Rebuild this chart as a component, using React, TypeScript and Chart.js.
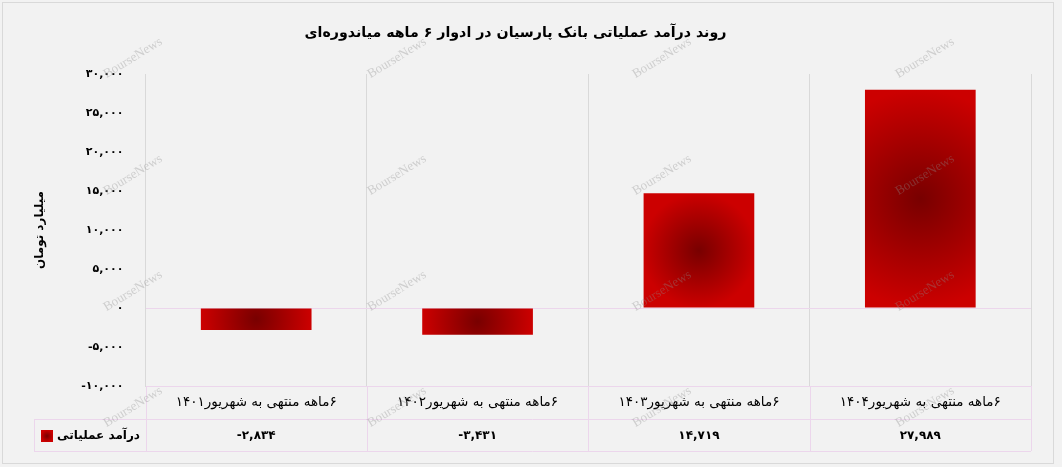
import React, { useEffect, useRef } from 'react';
import { Chart, registerables } from 'chart.js';

Chart.register(...registerables);

// ---- data ----
const chartTitle = 'روند درآمد عملیاتی بانک پارسیان در ادوار ۶ ماهه میاندوره‌ای';
const yAxisTitle = 'میلیارد تومان';
const seriesName = 'درآمد عملیاتی';
const categories = [
  '۶ماهه منتهی به شهریور۱۴۰۱',
  '۶ماهه منتهی به شهریور۱۴۰۲',
  '۶ماهه منتهی به شهریور۱۴۰۳',
  '۶ماهه منتهی به شهریور۱۴۰۴',
];
const values = [-2834, -3431, 14719, 27989];
const yMin = -10000;
const yMax = 30000;
const yStep = 5000;
const watermark = 'BourseNews';

const FONT = '"DejaVu Sans", "Noto Sans", sans-serif';
const toFa = (s: string) => s.replace(/\d/g, (d) => '۰۱۲۳۴۵۶۷۸۹'[+d]);
const fmt = (n: number) => toFa(Math.round(n).toLocaleString('en-US'));
const rtl = (s: string) => '\u202B' + s + '\u202C';

const EDGE = '#cc0000';
const CENTER = '#780000';
const TITLE_SIZE = 14.2;

const deco = {
  id: 'deco',
  beforeDraw(chart: any) {
    const { ctx, width, height } = chart;
    ctx.save();
    ctx.fillStyle = '#f2f2f2';
    ctx.fillRect(0, 0, width, height);
    ctx.strokeStyle = '#d9d9d9';
    ctx.lineWidth = 1;
    ctx.strokeRect(2.5, 2.5, 1051, 461);
    ctx.restore();
  },
  afterDraw(chart: any) {
    const { ctx, chartArea } = chart;
    const xs = chart.scales.x;
    const n = categories.length;
    const colW = xs.width / n;
    const rowTop = Math.round(chartArea.bottom);
    const rowMid = rowTop + 33;
    const rowBot = rowTop + 65;
    const legendLeft = 34;
    ctx.save();
    ctx.strokeStyle = '#ecd6ec';
    ctx.lineWidth = 1;
    ctx.beginPath();
    ctx.moveTo(legendLeft, rowMid + 0.5);
    ctx.lineTo(xs.right, rowMid + 0.5);
    ctx.moveTo(legendLeft, rowBot + 0.5);
    ctx.lineTo(xs.right, rowBot + 0.5);
    ctx.moveTo(legendLeft + 0.5, rowMid);
    ctx.lineTo(legendLeft + 0.5, rowBot);
    for (let i = 0; i <= n; i++) {
      const x = Math.round(xs.left + i * colW) + 0.5;
      ctx.moveTo(x, rowTop);
      ctx.lineTo(x, rowBot);
    }
    ctx.stroke();

    // values row
    ctx.fillStyle = '#000';
    ctx.font = 'bold 12px ' + FONT;
    ctx.textAlign = 'center';
    ctx.textBaseline = 'middle';
    const vy = (rowMid + rowBot) / 2 + 1;
    values.forEach((v, i) => {
      ctx.fillText(fmt(v), xs.getPixelForValue(i), vy);
    });

    // legend cell
    const sx = 41, sy = vy - 6, ss = 12;
    const g = ctx.createRadialGradient(sx + ss / 2, sy + ss / 2, 0, sx + ss / 2, sy + ss / 2, ss / 2);
    g.addColorStop(0, CENTER);
    g.addColorStop(1, EDGE);
    ctx.fillStyle = g;
    ctx.fillRect(sx, sy, ss, ss);
    ctx.fillStyle = '#000';
    ctx.font = 'bold 12px ' + FONT;
    ctx.textAlign = 'right';
    ctx.fillText(seriesName, 140, vy);

    // watermark
    ctx.font = '13px "Liberation Serif", serif';
    ctx.fillStyle = 'rgba(140,140,140,0.35)';
    ctx.textAlign = 'center';
    const wx = [133, 397, 662, 925];
    const wy = [58, 175, 291, 407];
    wy.forEach((y) =>
      wx.forEach((x) => {
        ctx.save();
        ctx.translate(x, y);
        ctx.rotate(-0.55);
        ctx.fillText(watermark, 0, 0);
        ctx.restore();
      })
    );
    ctx.restore();
  },
};

export default function App() {
  const ref = useRef<HTMLCanvasElement | null>(null);
  useEffect(() => {
    if (!ref.current) return;
    const chart = new Chart(ref.current, {
      type: 'bar',
      data: {
        labels: categories,
        datasets: [
          {
            label: seriesName,
            data: values,
            categoryPercentage: 1,
            barPercentage: 0.5,
            borderWidth: 0,
            backgroundColor: (c: any) => {
              const ch = c.chart;
              const xs = ch.scales?.x;
              const ys = ch.scales?.y;
              if (!xs || !ys || c.dataIndex == null || typeof c.raw !== 'number') return EDGE;
              const v = c.raw as number;
              const cx = xs.getPixelForValue(c.dataIndex);
              const y0 = ys.getPixelForValue(0);
              const y1 = ys.getPixelForValue(v);
              const cy = (y0 + y1) / 2;
              const w = (xs.width / categories.length) * 0.5;
              const h = Math.abs(y1 - y0);
              const r = Math.max(w, h) / 2;
              if (![cx, cy, r].every((q) => Number.isFinite(q)) || r <= 0) return EDGE;
              const g = ch.ctx.createRadialGradient(cx, cy, 0, cx, cy, r);
              g.addColorStop(0, CENTER);
              g.addColorStop(1, EDGE);
              return g;
            },
          },
        ],
      },
      options: {
        responsive: false,
        animation: false,
        events: [],
        layout: { padding: { left: 0, right: 31, top: 0, bottom: 16 } },
        plugins: {
          legend: { display: false },
          tooltip: { enabled: false },
          title: {
            display: true,
            text: chartTitle,
            color: '#000',
            font: { family: FONT, size: TITLE_SIZE, weight: 'bold', lineHeight: 1.2 },
            padding: { top: 33 - TITLE_SIZE * 0.6, bottom: 74 - (33 - TITLE_SIZE * 0.6) - TITLE_SIZE * 1.2 },
          },
        },
        scales: {
          x: {
            grid: { color: '#d9d9d9', drawTicks: false, offset: true },
            border: { display: true, color: '#ecd6ec' },
            ticks: {
              color: '#000',
              font: { family: FONT, size: 13.5 },
              padding: 8,
              maxRotation: 0,
              autoSkip: false,
              callback: (_v: any, i: number) => rtl(categories[i]),
            },
            afterFit: (s: any) => {
              s.height = 65;
            },
          },
          y: {
            min: yMin,
            max: yMax,
            grid: {
              drawTicks: false,
              color: (c: any) => (c.tick && c.tick.value === 0 ? '#ecd6ec' : 'rgba(0,0,0,0)'),
            },
            border: { display: true, color: '#d9d9d9' },
            ticks: {
              stepSize: yStep,
              color: '#000',
              font: { family: FONT, size: 11, weight: 'bold' },
              padding: 22,
              callback: (v: any) => fmt(Number(v)),
            },
            title: {
              display: true,
              text: yAxisTitle,
              color: '#000',
              font: { family: FONT, size: 12, weight: 'bold', lineHeight: 1.2 },
              padding: { top: 33, bottom: 0 },
            },
            afterFit: (s: any) => {
              s.width = 145.5;
            },
          },
        },
      },
      plugins: [deco],
    });
    return () => chart.destroy();
  }, []);
  return (
    <div style={{ position: 'absolute', left: 0, top: 0, width: 1062, height: 467 }}>
      <canvas ref={ref} width={1062} height={467} style={{ display: 'block' }} />
    </div>
  );
}
